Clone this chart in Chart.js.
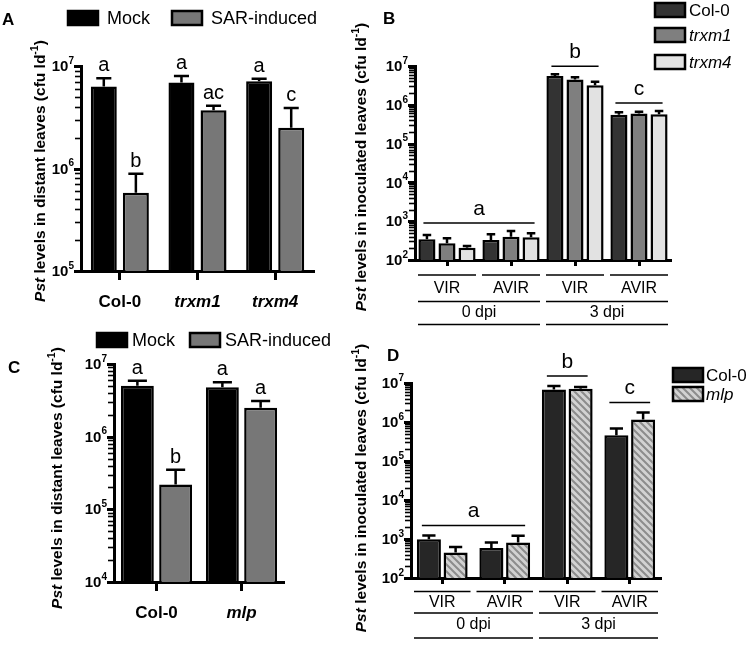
<!DOCTYPE html>
<html>
<head>
<meta charset="utf-8">
<script src="https://cdn.jsdelivr.net/npm/chart.js@4.4.1/dist/chart.umd.min.js"></script>
<style>
  body { margin: 0; background: #fff; }
  #fig { position: relative; width: 747px; height: 649px; overflow: hidden; background: #fff; }
  #fig canvas { position: absolute; }
</style>
</head>
<body>
<div id="fig">
  <canvas id="panelA" width="370" height="330" style="left:0;top:0;width:370px;height:330px"></canvas>
  <canvas id="panelC" width="370" height="324" style="left:0;top:325px;width:370px;height:324px"></canvas>
  <canvas id="panelB" width="407" height="330" style="left:340px;top:0;width:407px;height:330px"></canvas>
  <canvas id="panelD" width="407" height="324" style="left:340px;top:325px;width:407px;height:324px"></canvas>
</div>
<script>
// ---- panel A: SAR in trxm mutants (distant leaves) ----
const aGenotypes = ["Col-0", "trxm1", "trxm4"];
const aMock = [6.3e6, 6.9e6, 7.1e6];
const aMockHi = [7.6e6, 8.0e6, 7.5e6];      // top of error bar
const aSar = [5.8e5, 3.7e6, 2.5e6];
const aSarHi = [8.9e5, 4.1e6, 3.9e6];
const aMockLetters = ["a", "a", "a"];
const aSarLetters = ["b", "ac", "c"];
const aDecades = [1e5, 1e6, 1e7];

// ---- panel B: inoculated leaves, trxm mutants ----
const bCategories = ["VIR", "AVIR", "VIR", "AVIR"];
const bTimepoints = ["0 dpi", "3 dpi"];
const bCol0 = [341, 327, 5.5e6, 5.5e5];
const bCol0Hi = [440, 459, 6.1e6, 6.4e5];
const bTrxm1 = [269, 399, 4.5e6, 6.0e5];
const bTrxm1Hi = [362, 559, 5.1e6, 6.6e5];
const bTrxm4 = [207, 384, 3.2e6, 5.7e5];
const bTrxm4Hi = [230, 487, 3.9e6, 6.9e5];
const bLetters = ["a", "b", "c"];
const bLetterSpans = [[0, 1], [2, 2], [3, 3]];
const bDecades = [1e2, 1e3, 1e4, 1e5, 1e6, 1e7];

// ---- panel C: SAR in mlp (distant leaves) ----
const cGenotypes = ["Col-0", "mlp"];
const cMock = [5.0e6, 4.8e6];
const cMockHi = [5.9e6, 5.6e6];
const cSar = [2.2e5, 2.5e6];
const cSarHi = [3.5e5, 3.1e6];
const cMockLetters = ["a", "a"];
const cSarLetters = ["b", "a"];
const cDecades = [1e4, 1e5, 1e6, 1e7];

// ---- panel D: inoculated leaves, mlp ----
const dCategories = ["VIR", "AVIR", "VIR", "AVIR"];
const dTimepoints = ["0 dpi", "3 dpi"];
const dCol0 = [990, 585, 6.8e6, 4.6e5];
const dCol0Hi = [1230, 814, 8.4e6, 6.8e5];
const dMlp = [452, 814, 7.1e6, 1.16e6];
const dMlpHi = [621, 1208, 7.9e6, 1.76e6];
const dLetters = ["a", "b", "c"];
const dLetterSpans = [[0, 1], [2, 2], [3, 3]];
const dDecades = [1e2, 1e3, 1e4, 1e5, 1e6, 1e7];

const FONT = "'Liberation Sans', Arial, Helvetica, sans-serif";
Chart.defaults.font.family = FONT;
Chart.defaults.color = "#000";
Chart.defaults.animation = false;

function isDecade(v) {
    const l = Math.log10(v);
    return Math.abs(l - Math.round(l)) < 1e-9;
}

// 1..9 x each decade, for the minor tick marks
function logTickValues(decades) {
    const out = [];
    decades.forEach((d, i) => {
        if (i === decades.length - 1) { out.push(d); return; }
        for (let k = 1; k < 10; k++) out.push(d * k);
    });
    return out;
}

function hatchPattern() {
    const c = document.createElement("canvas");
    c.width = 7; c.height = 7;
    const g = c.getContext("2d");
    g.fillStyle = "#d2d2d2";
    g.fillRect(0, 0, 7, 7);
    g.strokeStyle = "#8c8c8c";
    g.lineWidth = 2;
    g.beginPath();
    g.moveTo(-1, -1); g.lineTo(8, 8);
    g.moveTo(-1, 6); g.lineTo(1, 8);
    g.moveTo(6, -1); g.lineTo(8, 1);
    g.stroke();
    return g.createPattern(c, "repeat");
}

function logAxis(decades, width) {
    return {
        type: "logarithmic",
        z: 1,
        min: decades[0],
        max: decades[decades.length - 1],
        afterBuildTicks: s => { s.ticks = logTickValues(decades).map(v => ({ value: v })); },
        afterFit: s => { s.width = width; },
        ticks: { display: false, autoSkip: false },
        grid: { display: false, drawOnChartArea: false, drawTicks: false },
        border: { display: true, color: "#000", width: 3 }
    };
}

function catAxis(height, tickLen, pad, font) {
    return {
        type: "category",
        z: 1,
        offset: true,
        afterFit: s => { s.height = height; },
        grid: {
            offset: false,
            drawOnChartArea: false,
            drawTicks: true,
            tickLength: tickLen,
            tickWidth: 3,
            tickColor: "#000"
        },
        border: { display: true, color: "#000", width: 3 },
        ticks: { padding: pad, font, color: "#000", autoSkip: false, maxRotation: 0 }
    };
}

function genotypeFont(ctx) {
    const lab = ctx.tick ? ctx.tick.label : "";
    return { family: FONT, size: 17, weight: "bold", style: lab === "Col-0" ? "normal" : "italic" };
}

function drawRotTitle(ctx, parts, bx, cy, size) {
    const fontOf = p => `${p.i ? "italic " : ""}bold ${p.sup ? size * 0.68 : size}px ${FONT}`;
    let total = 0;
    parts.forEach(p => { ctx.font = fontOf(p); total += ctx.measureText(p.t).width; });
    ctx.save();
    ctx.translate(bx, cy);
    ctx.rotate(-Math.PI / 2);
    ctx.textAlign = "left";
    ctx.textBaseline = "alphabetic";
    let x = -total / 2;
    parts.forEach(p => {
        ctx.font = fontOf(p);
        ctx.fillText(p.t, x, p.sup ? -size * 0.42 : 0);
        x += ctx.measureText(p.t).width;
    });
    ctx.restore();
}

const decorPlugin = {
    id: "decor",
    afterDatasetsDraw(chart, args, o) {
        const ctx = chart.ctx;
        const ys = chart.scales.y;
        ctx.save();
        ctx.strokeStyle = "#000";
        ctx.fillStyle = "#000";
        // upper error bars + letters over single bars
        chart.data.datasets.forEach((ds, i) => {
            const meta = chart.getDatasetMeta(i);
            meta.data.forEach((bar, j) => {
                const top = ys.getPixelForValue(ds.hi[j]);
                const cap = bar.width * o.capRatio / 2;
                ctx.lineWidth = 2.5;
                ctx.beginPath();
                ctx.moveTo(bar.x, bar.y);
                ctx.lineTo(bar.x, top);
                ctx.moveTo(bar.x - cap, top);
                ctx.lineTo(bar.x + cap, top);
                ctx.stroke();
                if (ds.letters) {
                    ctx.font = `20px ${FONT}`;
                    ctx.textAlign = "center";
                    ctx.textBaseline = "alphabetic";
                    ctx.fillText(ds.letters[j], bar.x, top - o.letterGap);
                }
            });
        });
        // letters over groups of bars with a line
        (o.groupLetters || []).forEach(g => {
            let left = Infinity, right = -Infinity, top = Infinity;
            chart.data.datasets.forEach((ds, i) => {
                const meta = chart.getDatasetMeta(i);
                for (let j = g.span[0]; j <= g.span[1]; j++) {
                    const bar = meta.data[j];
                    left = Math.min(left, bar.x - bar.width / 2);
                    right = Math.max(right, bar.x + bar.width / 2);
                    top = Math.min(top, ys.getPixelForValue(ds.hi[j]));
                }
            });
            const ly = top - o.groupGap;
            ctx.lineWidth = 1.5;
            ctx.beginPath();
            ctx.moveTo(left + 5, ly);
            ctx.lineTo(right - 5, ly);
            ctx.stroke();
            ctx.font = `21px ${FONT}`;
            ctx.textAlign = "center";
            ctx.textBaseline = "alphabetic";
            ctx.fillText(g.text, (left + right) / 2, ly - 8);
        });
        ctx.restore();
    },
    afterDraw(chart, args, o) {
        const ctx = chart.ctx;
        const area = chart.chartArea;
        const ys = chart.scales.y;
        const xs = chart.scales.x;
        ctx.save();
        ctx.fillStyle = "#000";
        ctx.strokeStyle = "#000";

        // panel letter
        ctx.font = `bold 17px ${FONT}`;
        ctx.textAlign = "left";
        ctx.textBaseline = "alphabetic";
        ctx.fillText(o.panel.text, o.panel.x, o.panel.y);

        // y tick marks: long/thick at decades, short at 2..9
        logTickValues(o.decades).forEach(v => {
            const py = Math.round(ys.getPixelForValue(v)) + 0.5;
            const major = isDecade(v);
            ctx.lineWidth = major ? 3 : 1.6;
            ctx.beginPath();
            ctx.moveTo(area.left - (major ? 7 : 6), py);
            ctx.lineTo(area.left + 1, py);
            ctx.stroke();
        });

        // decade labels 10^n
        o.decades.forEach(d => {
            const py = ys.getPixelForValue(d);
            const exp = String(Math.round(Math.log10(d)));
            const right = area.left - 7;
            ctx.textAlign = "right";
            ctx.textBaseline = "middle";
            ctx.font = `bold 10px ${FONT}`;
            const we = ctx.measureText(exp).width;
            ctx.fillText(exp, right, py - 5);
            ctx.font = `bold 15px ${FONT}`;
            ctx.fillText("10", right - we, py + 1);
        });

        // y title
        drawRotTitle(ctx, o.title.parts, o.title.x, o.title.y, 15.5);

        // legend
        chart.data.datasets.forEach((ds, i) => {
            const [lx, ly] = o.legend.items[i];
            ctx.fillStyle = ds.backgroundColor;
            ctx.fillRect(lx, ly, 30, 14);
            ctx.lineWidth = 2.5;
            ctx.strokeRect(lx, ly, 30, 14);
            ctx.fillStyle = "#000";
            ctx.font = `${ds.italic ? "italic " : ""}${o.legend.size}px ${FONT}`;
            ctx.textAlign = "left";
            ctx.textBaseline = "middle";
            ctx.fillText(ds.label, lx + 30 + o.legend.gap, ly + 8);
        });

        // two-level category brackets under the x axis
        if (o.timepoints) {
            const r = o.rows;
            const half = (xs.getPixelForValue(1) - xs.getPixelForValue(0)) / 2;
            ctx.lineWidth = 1.5;
            xs.getLabels().forEach((lab, i) => {
                const cx = xs.getPixelForValue(i);
                ctx.beginPath();
                ctx.moveTo(cx - half + 3, area.bottom + r[0]);
                ctx.lineTo(cx + half - 3, area.bottom + r[0]);
                ctx.stroke();
            });
            o.timepoints.forEach((tp, k) => {
                const first = k * o.perTimepoint;
                const last = first + o.perTimepoint - 1;
                const l = xs.getPixelForValue(first) - half + 3;
                const rr = xs.getPixelForValue(last) + half - 3;
                ctx.beginPath();
                ctx.moveTo(l, area.bottom + r[1]);
                ctx.lineTo(rr, area.bottom + r[1]);
                ctx.moveTo(l, area.bottom + r[3]);
                ctx.lineTo(rr, area.bottom + r[3]);
                ctx.stroke();
                ctx.font = `16px ${FONT}`;
                ctx.textAlign = "center";
                ctx.textBaseline = "middle";
                ctx.fillText(tp, (l + rr) / 2, area.bottom + r[2]);
            });
        }
        ctx.restore();
    }
};

function titleParts(where) {
    return [
        { t: "Pst", i: true },
        { t: ` levels in ${where} leaves (cfu ld` },
        { t: "-1", sup: true },
        { t: ")" }
    ];
}

// ---------------- A ----------------
new Chart(document.getElementById("panelA"), {
    type: "bar",
    data: {
        labels: aGenotypes,
        datasets: [
            { label: "Mock", data: aMock, hi: aMockHi, letters: aMockLetters,
              backgroundColor: "#000", borderColor: "#000", borderWidth: 2.5,
              categoryPercentage: 0.826, barPercentage: 0.81 },
            { label: "SAR-induced", data: aSar, hi: aSarHi, letters: aSarLetters,
              backgroundColor: "#777777", borderColor: "#000", borderWidth: 2.5,
              categoryPercentage: 0.826, barPercentage: 0.81 }
        ]
    },
    options: {
        responsive: false,
        layout: { autoPadding: false, padding: { left: 0, top: 66, right: 56, bottom: 0 } },
        plugins: {
            legend: { display: false },
            tooltip: { enabled: false },
            decor: {
                capRatio: 0.58, letterGap: 7,
                panel: { text: "A", x: 2, y: 25 },
                decades: aDecades,
                title: { parts: titleParts("distant"), x: 45, y: 171 },
                legend: { items: [[68, 11], [172, 11]], gap: 9, size: 18 }
            }
        },
        scales: {
            x: catAxis(59, 9, 12, genotypeFont),
            y: logAxis(aDecades, 81)
        }
    },
    plugins: [decorPlugin]
});

// ---------------- B ----------------
new Chart(document.getElementById("panelB"), {
    type: "bar",
    data: {
        labels: bCategories,
        datasets: [
            { label: "Col-0", data: bCol0, hi: bCol0Hi, backgroundColor: "#333333" },
            { label: "trxm1", data: bTrxm1, hi: bTrxm1Hi, backgroundColor: "#7f7f7f", italic: true },
            { label: "trxm4", data: bTrxm4, hi: bTrxm4Hi, backgroundColor: "#e2e2e2", italic: true }
        ].map(ds => Object.assign(ds, { borderColor: "#000", borderWidth: 2.5,
                                        categoryPercentage: 0.94, barPercentage: 0.85 }))
    },
    options: {
        responsive: false,
        layout: { autoPadding: false, padding: { left: 0, top: 66, right: 76, bottom: 0 } },
        plugins: {
            legend: { display: false },
            tooltip: { enabled: false },
            decor: {
                capRatio: 0.5, groupGap: 8,
                groupLetters: bLetters.map((t, k) => ({ text: t, span: bLetterSpans[k] })),
                panel: { text: "B", x: 43, y: 24 },
                decades: bDecades,
                title: { parts: titleParts("inoculated"), x: 26, y: 167 },
                legend: { items: [[315, 3], [315, 28], [315, 55]], gap: 4, size: 17 },
                timepoints: bTimepoints, perTimepoint: 2,
                rows: [15, 41.5, 52.5, 64.5]
            }
        },
        scales: {
            x: catAxis(70, 6, 13, { family: FONT, size: 16 }),
            y: logAxis(bDecades, 75)
        }
    },
    plugins: [decorPlugin]
});

// ---------------- C ----------------
new Chart(document.getElementById("panelC"), {
    type: "bar",
    data: {
        labels: cGenotypes,
        datasets: [
            { label: "Mock", data: cMock, hi: cMockHi, letters: cMockLetters,
              backgroundColor: "#000", borderColor: "#000", borderWidth: 2.5,
              categoryPercentage: 0.9, barPercentage: 0.86 },
            { label: "SAR-induced", data: cSar, hi: cSarHi, letters: cSarLetters,
              backgroundColor: "#777777", borderColor: "#000", borderWidth: 2.5,
              categoryPercentage: 0.9, barPercentage: 0.86 }
        ]
    },
    options: {
        responsive: false,
        layout: { autoPadding: false, padding: { left: 0, top: 39, right: 86, bottom: 0 } },
        plugins: {
            legend: { display: false },
            tooltip: { enabled: false },
            decor: {
                capRatio: 0.58, letterGap: 7,
                panel: { text: "C", x: 8, y: 48 },
                decades: cDecades,
                title: { parts: titleParts("distant"), x: 62, y: 153 },
                legend: { items: [[97, 8], [190, 8]], gap: 5, size: 18 }
            }
        },
        scales: {
            x: catAxis(67, 9, 12, genotypeFont),
            y: logAxis(cDecades, 114)
        }
    },
    plugins: [decorPlugin]
});

// ---------------- D ----------------
new Chart(document.getElementById("panelD"), {
    type: "bar",
    data: {
        labels: dCategories,
        datasets: [
            { label: "Col-0", data: dCol0, hi: dCol0Hi, backgroundColor: "#262626" },
            { label: "mlp", data: dMlp, hi: dMlpHi, backgroundColor: hatchPattern(), italic: true }
        ].map(ds => Object.assign(ds, { borderColor: "#000", borderWidth: 2.5,
                                        categoryPercentage: 0.855, barPercentage: 0.9 }))
    },
    options: {
        responsive: false,
        layout: { autoPadding: false, padding: { left: 0, top: 58, right: 86, bottom: 0 } },
        plugins: {
            legend: { display: false },
            tooltip: { enabled: false },
            decor: {
                capRatio: 0.55, groupGap: 10,
                groupLetters: dLetters.map((t, k) => ({ text: t, span: dLetterSpans[k] })),
                panel: { text: "D", x: 47, y: 36 },
                decades: dDecades,
                title: { parts: titleParts("inoculated"), x: 26, y: 163 },
                legend: { items: [[333, 43], [333, 62]], gap: 3, size: 17 },
                timepoints: dTimepoints, perTimepoint: 2,
                rows: [13.5, 35, 46.5, 60]
            }
        },
        scales: {
            x: catAxis(71, 6, 9, { family: FONT, size: 16 }),
            y: logAxis(dDecades, 71)
        }
    },
    plugins: [decorPlugin]
});
</script>
</body>
</html>
